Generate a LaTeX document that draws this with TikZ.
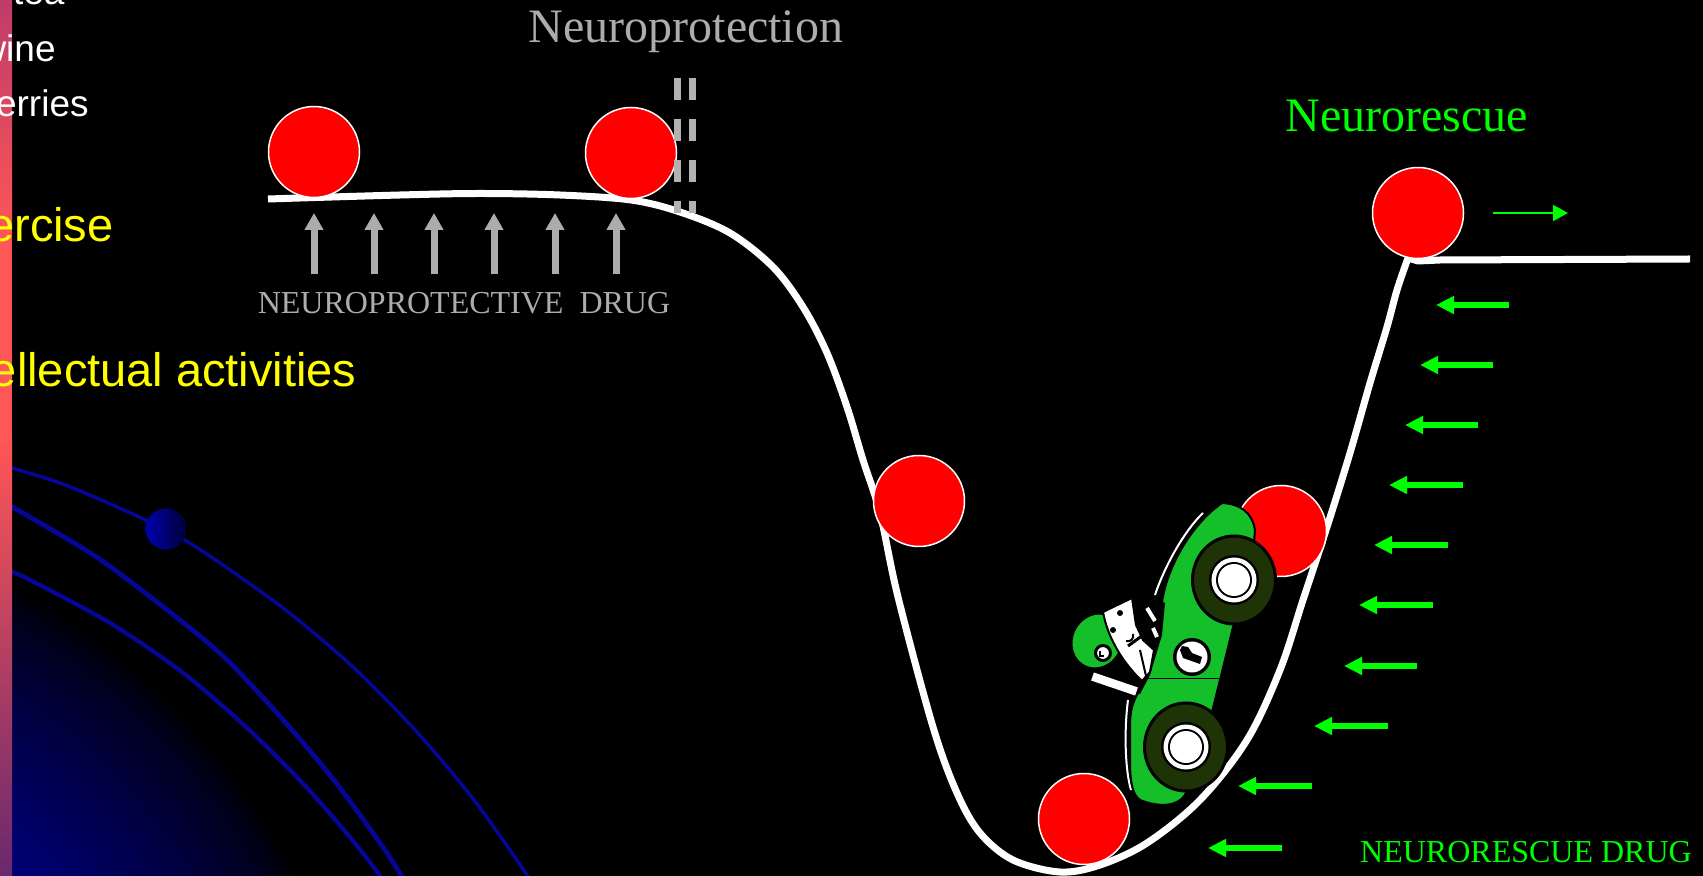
\documentclass[tikz,border=0pt]{standalone}
\usepackage{fontspec}
\setmainfont{Liberation Serif}
\newfontfamily\sidefont{Liberation Sans}
\usetikzlibrary{arrows.meta}

\definecolor{hillgray}{RGB}{172,172,172}
\definecolor{dashgray}{RGB}{178,178,178}
\definecolor{rescue}{RGB}{0,255,0}
\definecolor{redball}{RGB}{255,0,0}
\definecolor{cargreen}{RGB}{21,191,42}
\definecolor{tyre}{RGB}{30,52,6}
\definecolor{orbitblue}{RGB}{5,5,150}
\definecolor{navyglow}{RGB}{0,0,122}
\definecolor{stripetop}{RGB}{190,60,105}
\definecolor{stripemid}{RGB}{255,86,86}
\definecolor{stripebot}{RGB}{105,40,110}
\definecolor{listyellow}{RGB}{255,255,0}

\newcommand\titlesize{\fontsize{24pt}{28pt}\selectfont}
\newcommand\drugsize{\fontsize{16pt}{19pt}\selectfont}
\newcommand\listsize{\fontsize{18.5pt}{22pt}\selectfont}
\newcommand\habitsize{\fontsize{23.5pt}{28pt}\selectfont}

\begin{document}
\begin{tikzpicture}[x=0.5pt,y=-0.5pt,
  marble/.style={circle, fill=redball, draw=white, line width=0.75pt, minimum size=45.5pt, inner sep=0pt},
  hill/.style={draw=white, line width=3.5pt, line join=round},
  uparrow/.style={draw=hillgray, line width=3.5pt, -{Triangle[length=8.5pt,width=9pt]}},
  pusharrow/.style={draw=rescue, line width=3pt, -{Triangle[length=9pt,width=8.5pt]}},
  guard/.style={draw=dashgray, line width=3.5pt, dash pattern=on 11pt off 9.5pt},
  orbit/.style={draw=orbitblue},
  listtext/.style={anchor=base east, inner sep=0pt, text=white, font=\sidefont\listsize},
  habittext/.style={anchor=base east, inner sep=0pt, text=listyellow, font=\sidefont\habitsize},
  caption/.style={anchor=base, inner sep=0pt}]

\useasboundingbox (0,0) rectangle (1703,876);
\fill[black] (0,0) rectangle (1703,876);

\begin{scope}
\clip (0,0) rectangle (1703,876);
% dark blue glow in the lower left corner, built from concentric discs
\foreach \i in {0,...,44}{
  \pgfmathsetmacro\rr{(670-\i*5.6)/2}
  \pgfmathsetmacro\pp{100*(\i/44)^0.7}
  \fill[navyglow!\pp!black] (-300,1176) circle[radius=\rr pt];
}
% orbit lines
\draw[orbit, line width=1.75pt] plot[smooth, tension=0.5] coordinates {(-5,462) (12.5,468) (68,486) (148,521) (186,541) (220,563) (287,611) (354,668) (416,731) (474,800) (525,872) (547,908)};
\draw[orbit, line width=2.4pt] plot[smooth, tension=0.5] coordinates {(-5,497) (12.5,507) (95,556) (162,606) (224,657) (285,722) (337,784) (389,856) (420,908)};
\draw[orbit, line width=2.15pt] plot[smooth, tension=0.5] coordinates {(-5,564) (12.5,572) (34,582) (110,623) (182,672) (246,727) (309,790) (366,857) (402,908)};
\node[circle, minimum size=20.5pt, inner sep=0pt, left color={rgb,255:red,0;green,0;blue,175}, right color={rgb,255:red,0;green,0;blue,55}] (orb) at (166,529) {};
% side stripe
\shade[top color=stripetop, bottom color=stripemid] (0,0) rectangle (12,240);
\fill[stripemid] (0,240) rectangle (12,440);
\shade[top color=stripemid, bottom color=stripebot] (0,440) rectangle (12,876);
% list on the left
\node[listtext] (tea) at (65,5) {r tea};
\node[listtext] (wine) at (56,62) {wine};
\node[listtext] (berries) at (89,117) {erries};
\node[habittext] (exercise) at (114,242) {ercise};
\node[habittext] (intellect) at (357,387) {ellectual activities};
\end{scope}

% the hill and the valley
\draw[hill] plot[smooth, tension=0.55] coordinates {(268,199) (400,195) (480,193.5) (560,195) (631,200) (680,212) (730,233) (773,267) (803,307) (827,353) (847,407) (863,460) (880,513) (898,597) (933,727) (957,793) (980,833) (1013,860) (1060,872) (1100,865) (1147,843) (1200,800) (1247,740) (1280,670) (1303,600) (1327,527) (1350,453) (1370,383) (1387,327) (1397,290) (1408,258)} -- (1418,261) -- (1440,260) -- (1690,259);

% marbles
\node[marble] (m1) at (314,152) {};
\node[marble] (m2) at (631,153) {};
\node[marble] (m3) at (919,501) {};
\node[marble] (m4) at (1281,531) {};
\node[marble] (m5) at (1084,819) {};
\node[marble] (m6) at (1418,213) {};

% protection barrier
\draw[guard] (677,78) -- (677,213);
\draw[guard] (692,78) -- (692,213);

% neuroprotective drug arrows
\foreach \x in {314,374,434,494,555,616}
  \draw[uparrow] (\x,274) -- (\x,213);

% labels
\node[caption, text=hillgray, font=\titlesize] (protect) at (686,43) {Neuroprotection};
\node[caption, text=rescue, font=\titlesize] (rescuetitle) at (1407,132) {Neurorescue};
\node[caption, text=hillgray, font=\drugsize] (protectdrug) at (464,314) {NEUROPROTECTIVE\ \ DRUG};
\node[caption, text=rescue, font=\drugsize] (rescuedrug) at (1526,862) {NEURORESCUE DRUG};

% neurorescue drug arrows
\foreach \tip/\tail/\y in {1436/1509/305, 1420/1493/365, 1405/1478/425, 1389/1463/485, 1374/1448/545, 1359/1433/605, 1344/1417/666, 1314/1388/726, 1238/1312/786, 1208/1282/848}
  \draw[pusharrow] (\tail,\y) -- (\tip,\y);
\draw[draw=rescue, line width=1pt, -{Triangle[length=7.5pt,width=8pt]}] (1493,213) -- (1568,213);

% racing car
\draw[white, line width=1pt] (1155,595) .. controls (1165,565) and (1185,530) .. (1203,513);
\draw[white, line width=1pt] (1128,700) .. controls (1124,730) and (1125,770) .. (1131,790);
\filldraw[fill=cargreen, draw=black, line width=1pt]
  (1222,503) .. controls (1240,504) and (1252,512) .. (1255,530) -- (1250,590) -- (1233,627)
  -- (1220,680) -- (1205,740) -- (1185,795)
  .. controls (1178,806) and (1160,808) .. (1140,800)
  .. controls (1132,795) and (1130,780) .. (1130,760) -- (1130,727)
  .. controls (1130,712) and (1132,702) .. (1140,690)
  .. controls (1152,672) and (1160,640) .. (1162,603)
  .. controls (1166,570) and (1190,525) .. (1222,503) -- cycle;
\draw[black, line width=0.5pt] (1147,679) -- (1219,679);
% number roundel
\fill[black] (1192,657) circle[radius=9.5pt];
\fill[white] (1192,657) circle[radius=7.75pt];
\fill[black] (1180,650) -- (1183,658) -- (1200,664) -- (1202,657) -- (1192,653) -- (1188,647) -- (1182,646) -- cycle;
% cockpit
\fill[black] (1128,600) -- (1150,595) -- (1165,603) -- (1162,635) -- (1150,675) -- (1140,694) -- (1125,690) -- (1115,665) -- cycle;
% driver
\filldraw[fill=cargreen, draw=black, line width=1pt, rotate around={-25:(1097,641)}] (1097,641) ellipse[x radius=12.5pt, y radius=14pt];
\filldraw[fill=white, draw=black, line width=1pt]
  (1103,612) -- (1132,598) -- (1136,625) -- (1143,640) -- (1154,650) -- (1150,672) -- (1142,681)
  .. controls (1125,665) and (1108,640) .. (1103,612) -- cycle;
\draw[black, line width=1.5pt] (1128,646) -- (1150,630);
\draw[black, line width=1pt] (1140,650) -- (1146,676);
\fill[black] (1120,613) circle[radius=1.5pt];
\fill[black] (1113,630) circle[radius=1.5pt];
\draw[black, line width=1pt] (1126,641) .. controls (1131,642) and (1134,639) .. (1133,634);
\filldraw[fill=white, draw=black, line width=1.5pt] (1103,653) circle[radius=3.75pt];
\draw[black, line width=1pt] (1100,651) -- (1100,656) -- (1104,656);
\draw[black, line width=6pt] (1091,676) -- (1138,692);
\draw[white, line width=4.25pt] (1092.5,676.5) -- (1136.5,691.5);
\draw[white, line width=2pt] (1147,608) -- (1155,621);
\draw[white, line width=2pt] (1153,628) -- (1157,637);
% wheels
\foreach \cx/\cy in {1234/580, 1186/747}{
  \filldraw[fill=tyre, draw=black, line width=1.5pt] (\cx,\cy) ellipse[x radius=20.75pt, y radius=22pt];
  \fill[black] (\cx,\cy) circle[radius=12.5pt];
  \fill[white] (\cx,\cy) circle[radius=11.25pt];
  \fill[black] (\cx,\cy) circle[radius=9pt];
  \fill[white] (\cx,\cy) circle[radius=8pt];
}
\end{tikzpicture}
\end{document}
